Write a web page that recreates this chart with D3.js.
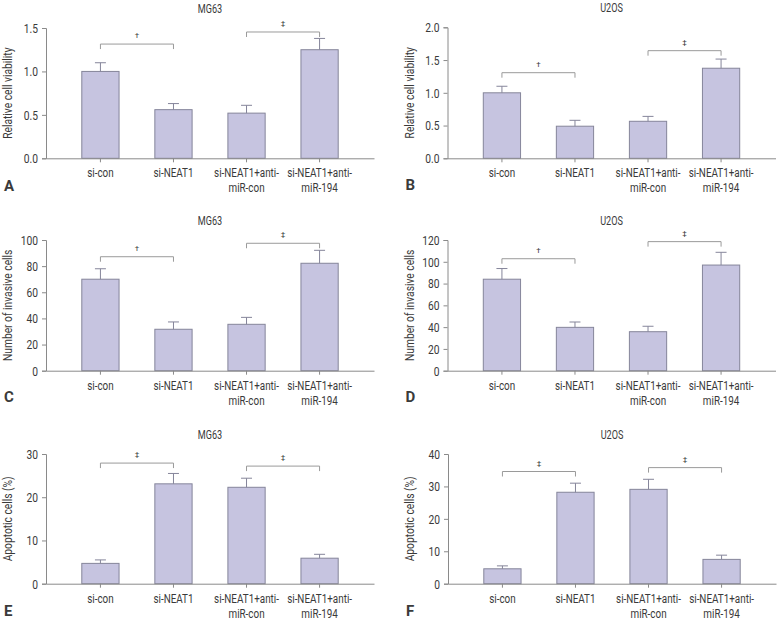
<!DOCTYPE html>
<html>
  <head>
    <meta charset="utf-8">
    <title>si-NEAT1 bar panels</title>
    <script src="https://d3js.org/d3.v7.min.js"></script>
    <style>
      body { margin: 0; background: #fff; }
      svg text { font-family: "Roboto", "Liberation Sans", sans-serif; fill: #3a3a3a; }
    </style>
  </head>
  <body>
    <div id="chart"></div>

    <script>
      // Groups along the x axis (tick labels are split onto two lines)
      const groups = ['si-con', 'si-NEAT1', 'si-NEAT1+anti-miR-con', 'si-NEAT1+anti-miR-194'];
      const groupLines = [['si-con'], ['si-NEAT1'], ['si-NEAT1+anti-', 'miR-con'], ['si-NEAT1+anti-', 'miR-194']];

      // Means and error (SD)
      const viabMG63 = [1.0, 0.56, 0.52, 1.25];
      const viabMG63Err = [0.10, 0.07, 0.09, 0.13];
      const viabU2OS = [1.0, 0.49, 0.565, 1.375];
      const viabU2OSErr = [0.10, 0.09, 0.075, 0.14];
      const invMG63 = [70, 31.7, 35.5, 82.2];
      const invMG63Err = [8, 5.6, 5.3, 9.9];
      const invU2OS = [84, 39.8, 35.8, 97];
      const invU2OSErr = [9.8, 4.9, 5.0, 11.7];
      const apoMG63 = [4.7, 23.1, 22.3, 5.9];
      const apoMG63Err = [0.8, 2.4, 2.1, 0.9];
      const apoU2OS = [4.6, 28.2, 29.1, 7.5];
      const apoU2OSErr = [0.9, 2.8, 3.1, 1.3];

      // Significance brackets: [from group, to group, height in data units, mark]
      const bracketsA = [[0, 1, 1.315, '\u2020'], [2, 3, 1.454, '\u2021']];
      const bracketsB = [[0, 1, 1.307, '\u2020'], [2, 3, 1.643, '\u2021']];
      const bracketsC = [[0, 1, 87.2, '\u2020'], [2, 3, 97.5, '\u2021']];
      const bracketsD = [[0, 1, 102.8, '\u2020'], [2, 3, 118.5, '\u2021']];
      const bracketsE = [[0, 1, 27.9, '\u2021'], [2, 3, 27.2, '\u2021']];
      const bracketsF = [[0, 1, 34.6, '\u2021'], [2, 3, 35.8, '\u2021']];

      // Y tick labels per panel
      const ticksViabMG63 = [0, 0.5, 1.0, 1.5];
      const ticksViabU2OS = [0, 0.5, 1.0, 1.5, 2.0];
      const ticksInvMG63 = [0, 20, 40, 60, 80, 100];
      const ticksInvU2OS = [0, 20, 40, 60, 80, 100, 120];
      const ticksApoMG63 = [0, 10, 20, 30];
      const ticksApoU2OS = [0, 10, 20, 30, 40];

      const panels = [
        { letter: 'A', title: 'MG63', ylab: 'Relative cell viability', vals: viabMG63, errs: viabMG63Err, ticks: ticksViabMG63, fmt: d3.format('.1f'), br: bracketsA, x0: 46, bottom: 158.3, top: 28, letterY: 191 },
        { letter: 'B', title: 'U2OS', ylab: 'Relative cell viability', vals: viabU2OS, errs: viabU2OSErr, ticks: ticksViabU2OS, fmt: d3.format('.1f'), br: bracketsB, x0: 447.5, bottom: 158.3, top: 27.3, letterY: 190 },
        { letter: 'C', title: 'MG63', ylab: 'Number of invasive cells', vals: invMG63, errs: invMG63Err, ticks: ticksInvMG63, fmt: d3.format('d'), br: bracketsC, x0: 46, bottom: 370.7, top: 240, letterY: 402 },
        { letter: 'D', title: 'U2OS', ylab: 'Number of invasive cells', vals: invU2OS, errs: invU2OSErr, ticks: ticksInvU2OS, fmt: d3.format('d'), br: bracketsD, x0: 447.5, bottom: 370.7, top: 240, letterY: 402 },
        { letter: 'E', title: 'MG63', ylab: 'Apoptotic cells (%)', vals: apoMG63, errs: apoMG63Err, ticks: ticksApoMG63, fmt: d3.format('d'), br: bracketsE, x0: 46, bottom: 583.7, top: 454, letterY: 616 },
        { letter: 'F', title: 'U2OS', ylab: 'Apoptotic cells (%)', vals: apoU2OS, errs: apoU2OSErr, ticks: ticksApoU2OS, fmt: d3.format('d'), br: bracketsF, x0: 448, bottom: 583.7, top: 454, letterY: 616 }
      ];

      const svg = d3.select('#chart')
        .append('svg')
        .attr('width', 779)
        .attr('height', 620);

      const axisColor = '#8a8a8a';
      const squeeze = 0.76; // the figure uses a condensed face

      // condensed text: placed at (x, y), squeezed horizontally
      function narrowText(g, x, y, str, size, rotate) {
        return g.append('text')
          .attr('transform', `translate(${x},${y})${rotate ? ' rotate(-90)' : ''} scale(${squeeze},1)`)
          .attr('text-anchor', 'middle')
          .attr('font-size', size)
          .text(str);
      }

      panels.forEach(p => {
        const yMax = p.ticks[p.ticks.length - 1];
        const x = d3.scaleBand().domain(groups).range([p.x0, p.x0 + 328]).padding(0.49);
        const y = d3.scaleLinear().domain([0, yMax]).range([p.bottom, p.top]);
        const g = svg.append('g');
        const cx = i => x(groups[i]) + x.bandwidth() / 2;

        // Bars
        g.selectAll('rect')
          .data(p.vals)
          .enter()
          .append('rect')
          .attr('x', (d, i) => x(groups[i]))
          .attr('y', d => y(d))
          .attr('width', x.bandwidth())
          .attr('height', d => y(0) - y(d))
          .attr('fill', '#c6c4e0')
          .attr('stroke', '#85859a')
          .attr('stroke-width', 1);

        // Error bars (upper whisker only)
        const eb = g.selectAll('g.err')
          .data(p.vals)
          .enter()
          .append('g')
          .attr('stroke', '#85859a')
          .attr('stroke-width', 1);
        eb.append('line')
          .attr('x1', (d, i) => cx(i)).attr('x2', (d, i) => cx(i))
          .attr('y1', d => y(d)).attr('y2', (d, i) => y(d + p.errs[i]));
        eb.append('line')
          .attr('x1', (d, i) => cx(i) - 5.5).attr('x2', (d, i) => cx(i) + 5.5)
          .attr('y1', (d, i) => y(d + p.errs[i])).attr('y2', (d, i) => y(d + p.errs[i]));

        // Y axis
        const yAxis = g.append('g')
          .attr('transform', `translate(${p.x0},0)`)
          .call(d3.axisLeft(y).tickValues(p.ticks).tickFormat(p.fmt).tickSize(4).tickPadding(4));
        yAxis.select('.domain').attr('stroke', axisColor);
        yAxis.selectAll('.tick line').attr('stroke', axisColor);
        yAxis.selectAll('.tick text')
          .attr('font-size', 13.5)
          .attr('fill', '#3a3a3a')
          .attr('x', -8 / squeeze)
          .attr('transform', `scale(${squeeze},1)`);

        // X axis
        const xAxis = g.append('g')
          .attr('transform', `translate(0,${p.bottom})`)
          .call(d3.axisBottom(x).tickSize(4).tickSizeOuter(0).tickFormat(''));
        xAxis.select('.domain').attr('stroke', axisColor);
        xAxis.selectAll('.tick line').attr('stroke', axisColor);
        groups.forEach((name, i) => {
          groupLines[i].forEach((line, k) => {
            narrowText(g, cx(i), p.bottom + 19 + k * 15, line, 13);
          });
        });

        // Title
        narrowText(g, p.x0 + 164, p.top - 15, p.title, 12);

        // Y label
        narrowText(g, p.x0 - 34, (p.top + p.bottom) / 2, p.ylab, 13.5, true);

        // Panel letter
        g.append('text')
          .attr('x', p.x0 - 42)
          .attr('y', p.letterY)
          .attr('font-size', 15)
          .attr('font-weight', 'bold')
          .attr('fill', '#111')
          .text(p.letter);

        // Significance brackets
        p.br.forEach(b => {
          const x1 = cx(b[0]), x2 = cx(b[1]), yy = y(b[2]);
          g.append('path')
            .attr('d', `M${x1},${yy + 5}V${yy}H${x2}V${yy + 5}`)
            .attr('fill', 'none')
            .attr('stroke', '#9a9a9a')
            .attr('stroke-width', 1);
          g.append('text')
            .attr('x', (x1 + x2) / 2)
            .attr('y', yy - 6)
            .attr('text-anchor', 'middle')
            .attr('font-size', 8)
            .attr('fill', '#666')
            .text(b[3]);
        });
      });
    </script>
  </body>
</html>
